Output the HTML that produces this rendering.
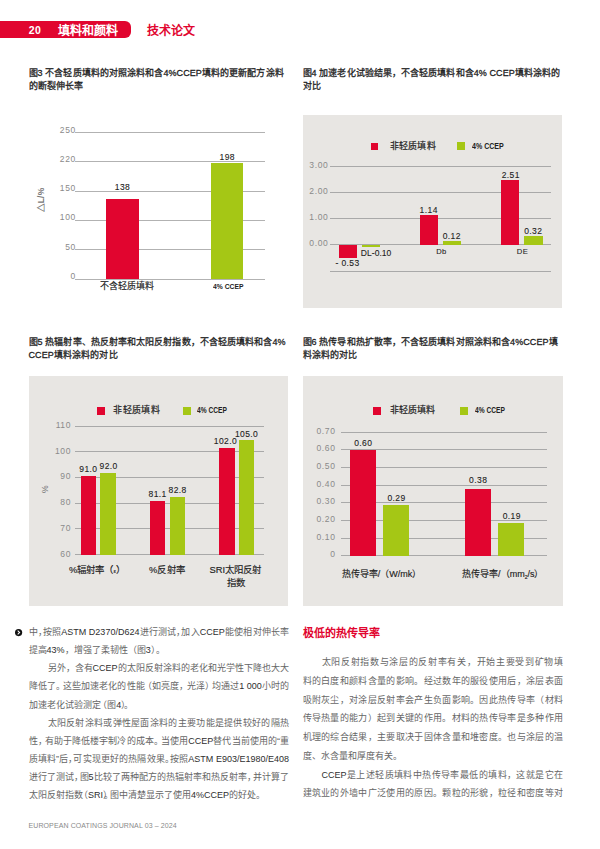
<!DOCTYPE html>
<html lang="zh-CN">
<head>
<meta charset="utf-8">
<title>填料和颜料 技术论文</title>
<style>
html,body{margin:0;padding:0;}
body{width:600px;height:849px;position:relative;overflow:hidden;background:#fff;font-family:"Liberation Sans",sans-serif;color:#222;}
.a{position:absolute;white-space:nowrap;}
.banner{left:0;top:20.7px;width:131px;height:17.3px;background:#e1052f;border-radius:0 6px 6px 0;}
.bn{color:#fff;font-weight:bold;font-size:10.5px;line-height:17.3px;top:21.7px;left:28.8px;letter-spacing:0.3px;}
.bt{color:#fff;font-weight:bold;font-size:12px;line-height:17.3px;top:22.9px;left:57.5px;}
.bt2{color:#e1052f;font-weight:bold;font-size:12px;line-height:17.3px;top:22.9px;left:147px;}
.cap{font-size:9px;line-height:13.5px;font-weight:normal;color:#1d1d1d;-webkit-text-stroke:0.28px #1d1d1d;letter-spacing:0.08px;}
.panel{background:#e8e6e3;}
.gl{height:1px;background:#a9a9a9;}
.f3 .gl{background:#b2b2b2;}
.r{background:#e1052f;}
.g{background:#a5c715;}
.yl{font-size:8.5px;line-height:10px;color:#8a8a8a;text-align:right;letter-spacing:0.6px;}
.vl{font-size:8.5px;line-height:10px;color:#222;text-align:center;letter-spacing:0.4px;-webkit-text-stroke:0.1px #222;}
.xl{font-size:9px;line-height:11px;color:#222;text-align:center;-webkit-text-stroke:0.15px #222;}
.lg{font-size:9px;line-height:11px;color:#222;letter-spacing:0.1px;-webkit-text-stroke:0.2px #222;}
.lg2{font-size:8.5px;line-height:11px;color:#222;font-weight:bold;transform:scaleX(0.8);transform-origin:0 50%;}
.t{font-size:9px;line-height:12px;color:#666;width:260.5px;--c:0em;}
.l{color:#2e2e2e;}
.j{text-align:justify;text-align-last:justify;}
.i{padding-left:19px;width:241.5px;}
.p{margin-right:var(--c);}
.q{margin-left:var(--c);}
.h{font-size:11px;line-height:13px;font-weight:bold;color:#e1052f;}
.ft{font-size:7px;line-height:8px;color:#8a8a8a;letter-spacing:0.1px;}
</style>
</head>
<body>
<!-- header -->
<div class="a banner"></div>
<div class="a bn">20</div>
<div class="a bt j" style="left:57.5px;width:60.2px;">填料和颜料</div>
<div class="a bt2 j" style="left:147.0px;width:48.2px;">技术论文</div>

<!-- captions -->
<div class="a cap j" style="left:28.5px;width:255.2px;top:66.9px;">图3 不含轻质填料的对照涂料和含4%CCEP填料的更新配方涂料</div>
<div class="a cap j" style="left:28.5px;width:54.7px;top:79.7px;">的断裂伸长率</div>
<div class="a cap j" style="left:302.5px;width:257.8px;top:66.9px;">图4 加速老化试验结果，不含轻质填料和含4% CCEP填料涂料的</div>
<div class="a cap j" style="left:302.5px;width:18.4px;top:79.7px;">对比</div>
<div class="a cap j" style="left:28.5px;width:257.1px;top:336.3px;">图5 热辐射率、热反射率和太阳反射指数，不含轻质填料和含4%</div>
<div class="a cap j" style="left:28.5px;width:89.1px;top:348.5px;">CCEP填料涂料的对比</div>
<div class="a cap j" style="left:302.5px;width:255.2px;top:336.3px;">图6 热传导和热扩散率，不含轻质填料对照涂料和含4%CCEP填</div>
<div class="a cap j" style="left:302.5px;width:54.7px;top:348.5px;">料涂料的对比</div>

<!-- FIG 3 -->
<div id="f3" class="f3">
<div class="a gl" style="left:75px;width:190px;top:132px;"></div>
<div class="a gl" style="left:75px;width:190px;top:161.25px;"></div>
<div class="a gl" style="left:75px;width:190px;top:190.5px;"></div>
<div class="a gl" style="left:75px;width:190px;top:219.75px;"></div>
<div class="a gl" style="left:75px;width:190px;top:249px;"></div>
<div class="a gl" style="left:75px;width:190px;top:278.8px;"></div>
<div class="a yl" style="left:45.8px;width:30px;top:124.50px;">250</div>
<div class="a yl" style="left:45.8px;width:30px;top:153.75px;">220</div>
<div class="a yl" style="left:45.8px;width:30px;top:183.00px;">150</div>
<div class="a yl" style="left:45.8px;width:30px;top:212.25px;">100</div>
<div class="a yl" style="left:45.8px;width:30px;top:241.50px;">50</div>
<div class="a yl" style="left:45.8px;width:30px;top:271.00px;">0</div>
<div class="a r" style="left:106.25px;width:32.5px;top:198.75px;height:80.5px;"></div>
<div class="a g" style="left:211.3px;width:32px;top:162.7px;height:116.5px;"></div>
<div class="a vl" style="left:102.5px;width:40px;top:181.5px;">138</div>
<div class="a vl" style="left:207.3px;width:40px;top:151.5px;">198</div>
<div class="a xl j" style="left:100.0px;width:54.2px;top:280.9px;">不含轻质填料</div>
<div class="a lg2" style="left:213.3px;top:281.2px;font-size:7.2px;transform:scaleX(0.94);">4% CCEP</div>
<div class="a yl" style="left:20.5px;top:195px;width:40px;height:10px;text-align:center;transform:rotate(-90deg);letter-spacing:0.2px;color:#777;font-weight:bold;">△L/%</div>
</div>

<!-- FIG 4 -->
<div id="f4">
<div class="a panel" style="left:302.9px;top:114.6px;width:259.3px;height:193.4px;"></div>
<div class="a r" style="left:370.6px;top:142.5px;width:7.5px;height:7.5px;"></div>
<div class="a lg j" style="left:390.0px;width:45.7px;top:140.5px;">非轻质填料</div>
<div class="a g" style="left:456.7px;top:142px;width:8px;height:8px;"></div>
<div class="a lg2" style="left:472px;top:140.8px;transform:scaleX(0.83);">4% CCEP</div>
<div class="a gl" style="left:330px;width:221px;top:166px;"></div>
<div class="a gl" style="left:330px;width:221px;top:192px;"></div>
<div class="a gl" style="left:330px;width:221px;top:218px;"></div>
<div class="a gl" style="left:330px;width:221px;top:244px;"></div>
<div class="a gl" style="left:330px;width:221px;top:270.6px;"></div>
<div class="a yl" style="left:297.3px;width:31px;top:160.3px;">3.00</div>
<div class="a yl" style="left:297.3px;width:31px;top:186.3px;">2.00</div>
<div class="a yl" style="left:297.3px;width:31px;top:212.3px;">1.00</div>
<div class="a yl" style="left:297.3px;width:31px;top:238.3px;">0.00</div>
<div class="a r" style="left:338.5px;width:18px;top:244.5px;height:13px;"></div>
<div class="a g" style="left:361.5px;width:18.5px;top:244.5px;height:2.5px;"></div>
<div class="a r" style="left:419.5px;width:18.5px;top:215px;height:29.5px;"></div>
<div class="a g" style="left:442.5px;width:18.5px;top:241px;height:3.5px;"></div>
<div class="a r" style="left:500.5px;width:18.5px;top:180px;height:64.5px;"></div>
<div class="a g" style="left:523.5px;width:19px;top:236px;height:8.5px;"></div>
<div class="a vl" style="left:327.5px;width:40px;top:258px;">- 0.53</div>
<div class="a vl" style="left:360.8px;width:30px;top:247.6px;text-align:left;letter-spacing:0.05px;">DL-0.10</div>
<div class="a vl" style="left:408.7px;width:40px;top:204.8px;">1.14</div>
<div class="a vl" style="left:431.75px;width:40px;top:230.5px;">0.12</div>
<div class="a vl" style="left:490.75px;width:40px;top:169.5px;">2.51</div>
<div class="a vl" style="left:513.25px;width:40px;top:225.5px;">0.32</div>
<div class="a vl" style="left:421.5px;width:40px;top:247.2px;font-size:7.6px;">Db</div>
<div class="a vl" style="left:502.5px;width:40px;top:247.2px;font-size:7.6px;">DE</div>
</div>

<!-- FIG 5 -->
<div id="f5">
<div class="a panel" style="left:28.6px;top:375.6px;width:259.3px;height:230px;"></div>
<div class="a r" style="left:97px;top:407px;width:7.5px;height:7.5px;"></div>
<div class="a lg j" style="left:113.3px;width:46.7px;top:405px;letter-spacing:0.3px;">非轻质填料</div>
<div class="a g" style="left:183.4px;top:406.5px;width:8px;height:8px;"></div>
<div class="a lg2" style="left:197.2px;top:405.3px;transform:scaleX(0.78);">4% CCEP</div>
<div class="a gl" style="left:75px;width:188.6px;top:425.7px;"></div>
<div class="a gl" style="left:75px;width:188.6px;top:451.4px;"></div>
<div class="a gl" style="left:75px;width:188.6px;top:476.8px;"></div>
<div class="a gl" style="left:75px;width:188.6px;top:502.6px;"></div>
<div class="a gl" style="left:75px;width:188.6px;top:528.4px;"></div>
<div class="a gl" style="left:75px;width:188.6px;top:554.2px;"></div>
<div class="a yl" style="left:40px;width:31px;top:419.8px;">110</div>
<div class="a yl" style="left:40px;width:31px;top:445.6px;">100</div>
<div class="a yl" style="left:40px;width:31px;top:471.4px;">90</div>
<div class="a yl" style="left:40px;width:31px;top:497.2px;">80</div>
<div class="a yl" style="left:40px;width:31px;top:523.0px;">70</div>
<div class="a yl" style="left:40px;width:31px;top:548.8px;">60</div>
<div class="a r" style="left:80.5px;width:15.3px;top:476px;height:78.7px;"></div>
<div class="a g" style="left:100px;width:15.5px;top:473.3px;height:81.4px;"></div>
<div class="a r" style="left:149.7px;width:15.3px;top:501.3px;height:53.4px;"></div>
<div class="a g" style="left:169.5px;width:15.5px;top:497px;height:57.7px;"></div>
<div class="a r" style="left:219.3px;width:15.4px;top:448px;height:106.7px;"></div>
<div class="a g" style="left:238.7px;width:15.8px;top:440px;height:114.7px;"></div>
<div class="a vl" style="left:68.4px;width:40px;top:463.5px;">91.0</div>
<div class="a vl" style="left:88.6px;width:40px;top:461px;">92.0</div>
<div class="a vl" style="left:137.6px;width:40px;top:488.7px;">81.1</div>
<div class="a vl" style="left:157.6px;width:40px;top:485px;">82.8</div>
<div class="a vl" style="left:205.5px;width:40px;top:435.6px;">102.0</div>
<div class="a vl" style="left:226.6px;width:40px;top:428.6px;">105.0</div>
<div class="a xl j" style="left:69.0px;width:56.2px;top:563.7px;font-size:9.4px;">%辐射率（<span style="font-size:6px">ε</span>）</div>
<div class="a xl j" style="left:149.1px;width:35.5px;top:563.7px;font-size:9.4px;">%反射率</div>
<div class="a xl j" style="left:209.5px;width:51.8px;top:563.7px;font-size:9.4px;">SRI太阳反射</div>
<div class="a xl j" style="left:226.8px;width:18.2px;top:576.7px;font-size:9.4px;">指数</div>
<div class="a yl" style="left:35px;top:483.5px;width:20px;height:10px;text-align:center;transform:rotate(-90deg);font-size:8.5px;color:#777;">%</div>
</div>

<!-- FIG 6 -->
<div id="f6">
<div class="a panel" style="left:303.3px;top:375.6px;width:259.3px;height:230px;"></div>
<div class="a r" style="left:373.4px;top:407px;width:7.5px;height:7.5px;"></div>
<div class="a lg j" style="left:389.7px;width:45.7px;top:405px;">非轻质填料</div>
<div class="a g" style="left:460.2px;top:406.5px;width:8px;height:8px;"></div>
<div class="a lg2" style="left:474.7px;top:405.3px;transform:scaleX(0.78);">4% CCEP</div>
<div class="a gl" style="left:341px;width:206px;top:431.7px;"></div>
<div class="a gl" style="left:341px;width:206px;top:449.4px;"></div>
<div class="a gl" style="left:341px;width:206px;top:467.1px;"></div>
<div class="a gl" style="left:341px;width:206px;top:484.8px;"></div>
<div class="a gl" style="left:341px;width:206px;top:502.4px;"></div>
<div class="a gl" style="left:341px;width:206px;top:520.1px;"></div>
<div class="a gl" style="left:341px;width:206px;top:537.8px;"></div>
<div class="a gl" style="left:341px;width:206px;top:555.4px;"></div>
<div class="a yl" style="left:304px;width:31.5px;top:425.7px;">0.70</div>
<div class="a yl" style="left:304px;width:31.5px;top:443.4px;">0.60</div>
<div class="a yl" style="left:304px;width:31.5px;top:461.1px;">0.50</div>
<div class="a yl" style="left:304px;width:31.5px;top:478.8px;">0.40</div>
<div class="a yl" style="left:304px;width:31.5px;top:496.4px;">0.30</div>
<div class="a yl" style="left:304px;width:31.5px;top:514.1px;">0.20</div>
<div class="a yl" style="left:304px;width:31.5px;top:531.8px;">0.10</div>
<div class="a yl" style="left:304px;width:31.5px;top:549.4px;">0</div>
<div class="a r" style="left:350px;width:25.8px;top:450px;height:106px;"></div>
<div class="a g" style="left:383px;width:25.8px;top:505px;height:51px;"></div>
<div class="a r" style="left:465.3px;width:25.7px;top:488.7px;height:67.3px;"></div>
<div class="a g" style="left:498px;width:25.7px;top:522.7px;height:33.3px;"></div>
<div class="a vl" style="left:343.3px;width:40px;top:437.5px;">0.60</div>
<div class="a vl" style="left:376.5px;width:40px;top:492.5px;">0.29</div>
<div class="a vl" style="left:458.2px;width:40px;top:475px;">0.38</div>
<div class="a vl" style="left:491.8px;width:40px;top:511px;">0.19</div>
<div class="a xl j" style="left:341.7px;width:79.7px;top:568.5px;font-size:9px;letter-spacing:0;">热传导率/（W/mk）</div>
<div class="a xl j" style="left:462.0px;width:81.5px;top:568.5px;font-size:9px;letter-spacing:0;">热传导率/（mm<span style="font-size:5px;vertical-align:-1.5px">2</span>/s）</div>
</div>

<!-- body left -->
<svg class="a" style="left:15.4px;top:629.4px;" width="7.2" height="7.2" viewBox="0 0 14 14"><circle cx="7" cy="7" r="7" fill="#111"/><path d="M5.2 3.4 L9 7 L5.2 10.6" fill="none" stroke="#fff" stroke-width="2"/></svg>
<div class="a t j" style="left:28.5px;top:626.1px;--c:-0.45em;">中<span class="p">，</span>按照<span class="l">ASTM D2370/D624</span>进行测试<span class="p">，</span>加入<span class="l">CCEP</span>能使相对伸长率</div>
<div class="a t j" style="left:28.5px;width:136.2px;top:644.2px;--c:0em;">提高<span class="l">43%</span>，增强了柔韧性（图<span class="l">3</span>）。</div>
<div class="a t j i" style="left:28.5px;top:662.3px;--c:0em;">另外，含有<span class="l">CCEP</span>的太阳反射涂料的老化和光学性下降也大大</div>
<div class="a t j" style="left:28.5px;top:680.4px;--c:-0.2em;">降低了<span class="p">。</span>这些加速老化的性能<span class="q">（</span>如亮度<span class="p">，</span>光泽<span class="p">）</span>均通过<span class="l">1 000</span>小时的</div>
<div class="a t j" style="left:28.5px;width:104.2px;top:698.5px;--c:-0.28em;">加速老化试验测定<span class="q">（</span>图<span class="l">4</span><span class="p">）</span>。</div>
<div class="a t j i" style="left:28.5px;top:716.6px;--c:0em;">太阳反射涂料或弹性屋面涂料的主要功能是提供较好的隔热</div>
<div class="a t j" style="left:28.5px;top:734.7px;--c:-0.2em;">性<span class="p">，</span>有助于降低楼宇制冷的成本<span class="p">。</span>当使用<span class="l">CCEP</span>替代当前使用的“重</div>
<div class="a t j" style="left:28.5px;top:752.8px;--c:-0.45em;">质填料”后<span class="p">，</span>可实现更好的热隔效果<span class="p">。</span>按照<span class="l">ASTM E903/E1980/E408</span></div>
<div class="a t j" style="left:28.5px;top:770.9px;--c:-0.35em;">进行了测试<span class="p">，</span>图<span class="l">5</span>比较了两种配方的热辐射率和热反射率<span class="p">，</span>并计算了</div>
<div class="a t j" style="left:28.5px;width:236.4px;top:789px;--c:-0.4em;">太阳反射指数<span class="q">（</span><span class="l">SRI</span><span class="p">）</span><span class="p">。</span>图中清楚显示了使用<span class="l">4%CCEP</span>的好处。</div>

<!-- body right -->
<div class="a h j" style="left:302.5px;width:77.2px;top:626.8px;">极低的热传导率</div>
<div class="a t j i" style="left:302.5px;top:656.1px;">太阳反射指数与涂层的反射率有关，开始主要受到矿物填</div>
<div class="a t j" style="left:302.5px;top:674.85px;">料的白度和颜料含量的影响。经过数年的服役使用后，涂层表面</div>
<div class="a t j" style="left:302.5px;top:693.6px;">吸附灰尘，对涂层反射率会产生负面影响。因此热传导率（材料</div>
<div class="a t j" style="left:302.5px;top:712.35px;">传导热量的能力）起到关键的作用。材料的热传导率是多种作用</div>
<div class="a t j" style="left:302.5px;top:731.1px;">机理的综合结果，主要取决于固体含量和堆密度。也与涂层的温</div>
<div class="a t j" style="left:302.5px;width:99.2px;top:749.85px;">度、水含量和厚度有关。</div>
<div class="a t j i" style="left:302.5px;top:768.6px;"><span class="l">CCEP</span>是上述轻质填料中热传导率最低的填料，这就是它在</div>
<div class="a t j" style="left:302.5px;top:787.35px;">建筑业的外墙中广泛使用的原因。颗粒的形貌，粒径和密度等对</div>

<!-- footer -->
<div class="a ft" style="left:28.5px;top:822px;">EUROPEAN COATINGS JOURNAL 03 – 2024</div>
</body>
</html>
